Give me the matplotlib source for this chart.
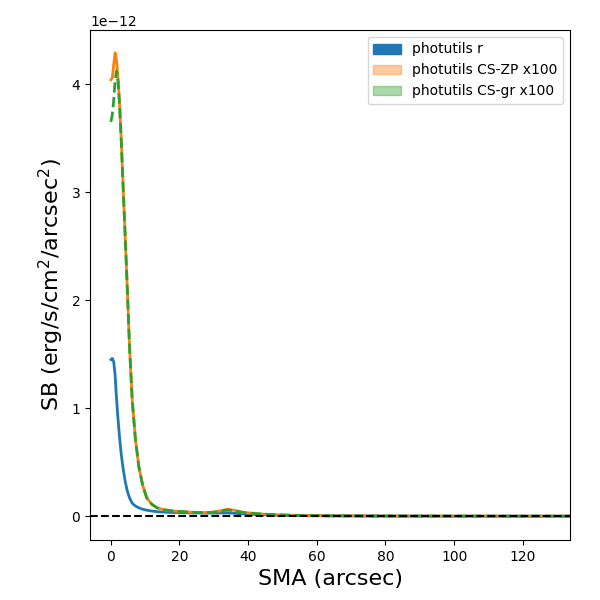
import numpy as np
import matplotlib
matplotlib.use("Agg")
import matplotlib.pyplot as plt
from matplotlib.patches import Patch

# semi-major axis (arcsec)
sma = [0.1, 0.5, 0.9, 1.3, 1.7, 2.1, 2.6, 3.1, 3.6, 4.2, 4.8, 5.5, 6.3, 7.2,
       8.2, 9.3, 10.5, 12, 13.5, 15.5, 17.7, 20, 22.5, 25, 27.5, 30, 32, 34,
       36, 38.5, 41, 44, 48, 53, 58, 64, 70, 77, 85, 94, 104, 115, 127, 140]

# surface brightness in units of 1e-12 erg/s/cm2/arcsec2
sb_r = [1.45, 1.46, 1.43, 1.31, 1.10, 0.92, 0.73, 0.57, 0.45, 0.33, 0.24,
        0.17, 0.12, 0.095, 0.078, 0.065, 0.056, 0.048, 0.042, 0.038, 0.035,
        0.033, 0.031, 0.030, 0.029, 0.029, 0.030, 0.031, 0.027, 0.022,
        0.018, 0.014, 0.010, 0.007, 0.005, 0.004, 0.003, 0.002, 0.0015,
        0.001, 0.0008, 0.0006, 0.0005, 0.0004]

sb_cs_zp = [4.04, 4.06, 4.18, 4.29, 4.22, 4.08, 3.82, 3.48, 3.08, 2.62, 2.15,
            1.57, 1.07, 0.72, 0.46, 0.29, 0.17, 0.11, 0.078, 0.060, 0.050,
            0.044, 0.039, 0.035, 0.033, 0.038, 0.050, 0.065, 0.055, 0.036,
            0.028, 0.020, 0.013, 0.009, 0.006, 0.004, 0.003, 0.002, 0.0015,
            0.001, 0.0008, 0.0006, 0.0005, 0.0004]

sb_cs_gr = [3.65, 3.72, 3.85, 4.03, 4.12, 4.05, 3.81, 3.47, 3.08, 2.62, 2.15,
            1.57, 1.07, 0.72, 0.46, 0.29, 0.17, 0.11, 0.078, 0.060, 0.050,
            0.044, 0.039, 0.035, 0.033, 0.037, 0.046, 0.058, 0.050, 0.035,
            0.028, 0.020, 0.013, 0.009, 0.006, 0.004, 0.003, 0.002, 0.0015,
            0.001, 0.0008, 0.0006, 0.0005, 0.0004]

scale = 1e-12
x = np.array(sma)
r = np.array(sb_r) * scale
zp = np.array(sb_cs_zp) * scale
gr = np.array(sb_cs_gr) * scale

fig = plt.figure(figsize=(6, 6), dpi=100)
ax = fig.add_axes([0.15, 0.1, 0.8, 0.85])

ax.plot(x, r, color='C0', lw=2)
ax.plot(x, zp, color='C1', lw=2)
ax.plot(x, gr, color='C2', lw=2, ls='--')
ax.axhline(0, color='k', ls='--', lw=1.5)

handles = [Patch(color='C0', label='photutils r'),
           Patch(color='C1', alpha=0.4, label='photutils CS-ZP x100'),
           Patch(color='C2', alpha=0.4, label='photutils CS-gr x100')]
ax.legend(handles=handles, loc='upper right')

ax.set_xlim(-6, 133.7)
ax.set_ylim(-0.22e-12, 4.5e-12)
ax.set_xlabel('SMA (arcsec)', fontsize=16)
ax.set_ylabel('SB (erg/s/cm$^2$/arcsec$^2$)', fontsize=16)

fig.savefig('out.png')
